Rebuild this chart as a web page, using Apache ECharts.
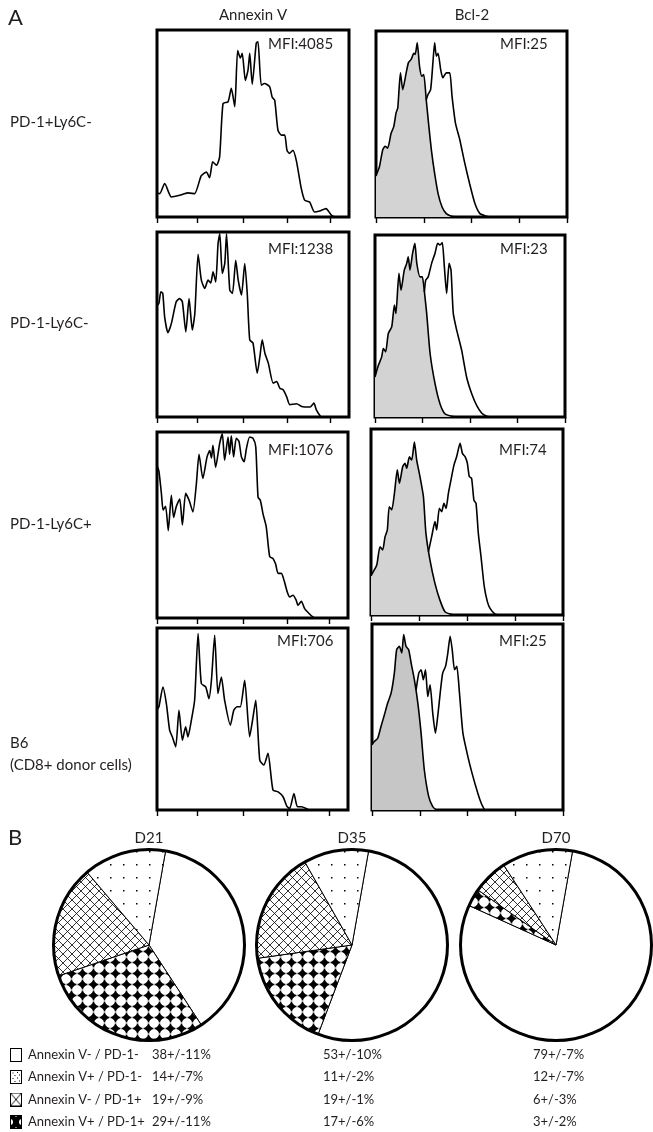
<!DOCTYPE html>
<html><head><meta charset="utf-8">
<script src="https://cdn.jsdelivr.net/npm/echarts@6/dist/echarts.min.js"></script>
<style>html,body{margin:0;padding:0;background:#fff}#c{width:653px;height:1132px}</style>
</head><body><div id="c"></div>
<script>
// ---------------- DATA ----------------
const columnTitles = ['Annexin V', 'Bcl-2'];
const rowLabels = ['PD-1+Ly6C-', 'PD-1-Ly6C-', 'PD-1-Ly6C+', 'B6', '(CD8+ donor cells)'];
const annexinMFI = [4085, 1238, 1076, 706];
const bcl2MFI = [25, 23, 74, 25];
const annexinTicks = [0, 21, 45, 68, 90];
const bcl2Ticks = [0, 25, 50, 75, 100];

const annexinRow1 = [[0,13],[1.4,12.5],[4,17.9],[7.5,10.7],[11.8,11.6],[16,12.9],[19.6,12.5],[23,22],[25.7,24],[27.4,21],[29,29.5],[31,27.7],[32.6,32],[34.4,60.7],[37,61.6],[38.7,68.8],[40.5,59],[42,89],[43.4,85],[44.4,87.5],[46,73],[47.4,78.6],[48.3,87.5],[49.6,71],[51.7,93],[52.6,93.7],[54.3,70.5],[56,71.4],[58.7,69.6],[60,64],[61.3,62.5],[63,46.4],[64.8,43.8],[66.5,43.8],[67.7,35.7],[69,34],[70.8,35.7],[72.6,30],[75,16],[76.9,9],[79.5,8],[82,2.7],[84.7,3.2],[88,4.5],[90.8,1],[92.5,0]];
const annexinRow2 = [[0,60],[1,61.4],[2,67.7],[3,66.8],[4,54],[5.7,45.6],[7.5,50.6],[10,62.3],[11.8,64],[13.2,62.3],[15,46],[16.7,64],[18.4,47],[19.7,56],[21.4,88],[23.1,74],[24.9,69.5],[26.6,74],[28,72.4],[29.2,78.5],[30.6,73],[31.8,93.7],[32.7,99],[34,77.6],[35.3,83],[36.2,99],[37.9,68.6],[39.3,66.8],[41,84.7],[42.3,74],[44,66],[45.7,83],[47,66.8],[48.3,41.7],[50,40],[52.2,23.7],[53.6,32.7],[54.8,41.7],[56.2,34.5],[58,29],[60.5,18.3],[62.3,19.2],[64,15.6],[65.7,14.7],[67.5,11],[69.2,6.6],[72.7,7.2],[75.3,5.7],[79.7,5.4],[81.7,7.5],[83,3.9],[84.9,0.7],[85.7,0]];
const annexinRow3 = [[0,82],[1,79],[2.3,67],[3.2,58],[4.5,60],[5.9,47],[7.5,66],[8.7,54],[10.1,60],[11.9,64],[13.3,50],[15,67],[16.9,63],[18.8,57],[20.6,72],[22,88],[24,75],[26.2,86.6],[27.6,90],[28.5,86],[29.3,92.8],[30.7,81],[32.8,93.8],[34.2,99],[35.4,84.8],[37.2,97.3],[38,88],[38.9,98],[40.1,86.6],[41.5,96.6],[42.9,95],[44.2,86.6],[45.6,84],[46.8,91],[48.5,97.3],[50.3,96.6],[51.7,92],[52.9,65],[54.1,63.3],[55.5,56],[57.2,49],[59,33],[60.7,32],[62.1,29],[63.4,24],[65.1,24],[66.5,20.3],[68.2,14],[69.5,11.3],[71.2,12.2],[72.9,9.5],[73.8,6.8],[75.6,9],[77.3,5],[79.6,2.4],[81.7,0.5],[82.5,0]];
const annexinRow4 = [[0,55],[1,56.7],[3.1,67.6],[4.9,58.5],[6.6,43.9],[8,40.2],[9.8,34.7],[11.5,54.8],[13.3,38.4],[15,45.7],[16.2,40.2],[18,49.4],[19.7,60.3],[21.5,96.9],[23.2,69.5],[25.5,67.6],[27.2,61.2],[28.5,71.3],[30.2,96],[31.9,64],[33.7,73.1],[35.4,60.3],[38.4,46.6],[40.2,54.8],[41.9,56.7],[43.6,56.7],[45.9,71.3],[48.5,40.2],[50.3,51.2],[51.7,60.3],[53.8,27.4],[55.9,24.7],[58.1,31.1],[60.7,11],[63.4,10],[66,7.3],[68.1,1.8],[69.5,0.9],[71.7,9.1],[73.5,1.8],[75.6,1.8],[79,0.4]];

// Bcl-2: isotype (grey filled) and stained (open)
const bcl2IsoRow1 = [[0,22],[0.5,23.4],[1.8,27],[3.5,36],[4.7,38],[6.1,37],[7.9,45],[9.3,48.6],[10.5,56],[11.4,58.6],[12.8,77.5],[14,68.5],[15.8,77.5],[17,83],[18.4,84.7],[19.8,88],[20.5,87.4],[21.6,93.7],[22.8,81],[24,75.7],[25,76.6],[26.3,63],[27.5,50.5],[29,36],[30.7,23.4],[32.5,12.6],[34.6,5.4],[36.8,1.8],[39.5,0.4],[43,0]];
const bcl2StainRow1 = [[26.3,63],[27.2,65.8],[28.6,68.5],[29.8,83],[30.7,93.7],[31.6,86.5],[32.5,88],[33.9,79],[35,74.8],[36.8,77.5],[38.6,77.5],[39.8,65],[41.6,50.5],[43.9,41.4],[46.5,28.8],[49,18],[51.8,7.2],[54.4,1.8],[57.9,0.4],[59.6,0]];
const bcl2IsoRow2 = [[0,22],[0.5,23.9],[1.8,28.4],[3.5,33],[4.4,37.6],[5.6,35.8],[7,45.9],[8.8,49.5],[10.2,61.5],[11,56.9],[12.6,78.9],[13.7,69.7],[15.4,80.7],[16.7,84.4],[17.5,88],[18.4,80.7],[19.8,90],[21,95.4],[22,84.4],[23.7,77],[24.9,77],[26,68.8],[27.2,56.9],[29,34.9],[31.6,18.3],[34.2,7.3],[36.8,1.8],[40.4,0.4],[43.9,0]];
const bcl2StainRow2 = [[26,68.8],[26.7,75.2],[28,77],[29.8,84.4],[31.6,90],[33,95.4],[34.2,94.5],[35.4,95.8],[36.5,82.6],[37.7,67.9],[39,84.4],[40,80.7],[41.2,56.9],[43,47.7],[45.6,36.7],[48.2,22],[50.9,12.8],[53.5,6.4],[56.1,2.2],[58.8,0.4],[60.5,0]];
const bcl2IsoRow3 = [[0,21],[1.2,23.3],[3,26.9],[4.7,36.7],[6.1,35],[7.3,42],[8.5,45.7],[9.5,58.2],[10.8,56.5],[12.2,65.4],[13.7,78],[14.8,70.8],[16.5,79.7],[17.7,81.5],[18.6,78.9],[20,85],[21.2,83.3],[22.6,93],[23.8,83.3],[25.5,74.4],[27.3,63.6],[28.6,44],[30.7,29.6],[33.3,17],[35.9,8],[38.5,1.8],[41.1,0.5],[43.8,0]];
const bcl2StainRow3 = [[29.9,34],[31.6,42.1],[33.3,50.2],[34.2,45.7],[35.6,57.3],[36.8,55.6],[38,60],[39.1,57.3],[40.3,65.4],[42,74.4],[43.2,80.6],[44.6,85.1],[46.4,92.3],[47.6,86.9],[49,85.1],[50.2,81.5],[51.2,74.4],[52.4,73.5],[53.6,61.8],[54.7,60],[55.9,43.9],[57.3,31.4],[59,15.2],[60.6,7.2],[62,3.6],[64.6,0.5],[66.3,0]];
const bcl2IsoRow4 = [[0,35],[1.2,36.8],[3,38.6],[4.7,44.9],[6.5,51.2],[8.2,57.5],[10,62.8],[11.7,73.6],[12.9,86.2],[14.3,88],[15.6,84.4],[16.6,94.3],[17.8,88],[19.2,86.2],[20.5,79],[22.2,70],[24,57.5],[25.7,41.3],[27.4,21.5],[29.7,7.2],[31.8,1.8],[33.6,0]];
const bcl2StainRow4 = [[23.1,64.6],[24.5,73.6],[25.7,75.4],[26.9,70],[28,75.4],[29.2,61],[30.4,67.3],[31.8,52.1],[33.2,41.3],[34.4,50.3],[35.7,62.8],[37,73.6],[38.5,77.2],[39.7,84.4],[40.9,93.4],[42,86.2],[43.2,75.4],[44.4,77.2],[45.8,62.8],[47.6,41.3],[50.2,28.7],[52.4,19.7],[55.4,9],[57.2,3.6],[58.9,0]];

// Panel B
const pieDays = ['D21', 'D35', 'D70'];
const subsetNames = ['Annexin V- / PD-1-', 'Annexin V+ / PD-1-', 'Annexin V- / PD-1+', 'Annexin V+ / PD-1+'];
const meanD21 = [38, 14, 19, 29];
const sdD21 = [11, 7, 9, 11];
const meanD35 = [53, 11, 19, 17];
const sdD35 = [10, 2, 1, 6];
const meanD70 = [79, 12, 6, 3];
const sdD70 = [7, 7, 3, 2];
const pieSliceOrder = [0, 3, 2, 1]; // clockwise from top

// ---------------- LAYOUT ----------------
const annexGrids = [[157,30,192,187],[157,232,192,185],[157,432,191,186],[157,628,191,182]];
const bclGrids = [[376,31,191,186],[375,235,190,182],[371,429,192,186],[372,624,191,186]];
const rowLabelY = [122, 323, 524, 743, 765];
const mfiPos = [[268,44,500,44],[268,249,500,249],[268,450,499,450],[277,641,499,641]];
const pieCenters = [[149,945],[352,945],[556,945]];
const pieR = 95.5;
const legendRowY = [1055, 1077, 1099.5, 1122];
const valueX = [152, 323, 533];
const FONT = 'Lato, "Open Sans", sans-serif';
const TXT = '#231f20';

// ---------------- PATTERNS ----------------
function makeCanvas(w, h, draw, bg) {
  const c = document.createElement('canvas'); c.width = w; c.height = h;
  const g = c.getContext('2d'); g.fillStyle = bg || '#fff'; g.fillRect(0, 0, w, h); draw(g); return c;
}
const dotTile = makeCanvas(13, 13, g => { g.fillStyle = '#000'; g.fillRect(6, 6, 1.5, 1.5); });
const crossTile = makeCanvas(9, 9, g => {
  g.strokeStyle = '#000'; g.lineWidth = 0.8; g.beginPath();
  g.moveTo(-1, -1); g.lineTo(10, 10); g.moveTo(10, -1); g.lineTo(-1, 10); g.stroke();
});
const diamondTile = makeCanvas(11, 11, g => {
  g.fillStyle = '#000'; g.beginPath();
  g.moveTo(5.5, 1.2); g.lineTo(9.8, 5.5); g.lineTo(5.5, 9.8); g.lineTo(1.2, 5.5); g.closePath(); g.fill();
  g.fillRect(4.7, 0.6, 1.6, 9.8); g.fillRect(0.6, 4.7, 9.8, 1.6);
});
const sliceFill = [
  '#ffffff',
  { image: dotTile, repeat: 'repeat' },
  { image: crossTile, repeat: 'repeat' },
  { image: diamondTile, repeat: 'repeat' }
];
// legend icons
const IW = 12, IH = 14;
function iconCanvas(kind) {
  return makeCanvas(IW, IH, g => {
    g.fillStyle = '#000'; g.strokeStyle = '#000';
    if (kind === 1) {
      [[2.5,2.5],[7,2],[9,4.5],[4.5,5],[2.5,8],[7,7.5],[9,10.5],[4.5,11]].forEach(p => g.fillRect(p[0], p[1], 1, 1));
    } else if (kind === 2) {
      g.lineWidth = 0.9; g.beginPath(); g.moveTo(0, 0); g.lineTo(IW, IH); g.moveTo(IW, 0); g.lineTo(0, IH); g.stroke();
    } else if (kind === 3) {
      g.fillRect(0, 0, IW, IH); g.fillStyle = '#fff';
      g.beginPath(); g.arc(0, IH / 2, 3, 0, Math.PI * 2); g.fill();
      g.beginPath(); g.arc(IW, IH / 2, 3, 0, Math.PI * 2); g.fill();
      g.beginPath(); g.moveTo(IW/2 - 2, 0); g.lineTo(IW/2 + 2, 0); g.lineTo(IW/2, 2); g.fill();
      g.beginPath(); g.moveTo(IW/2 - 2, IH); g.lineTo(IW/2 + 2, IH); g.lineTo(IW/2, IH - 2); g.fill();
    }
    g.lineWidth = 1; g.strokeStyle = '#000'; g.strokeRect(0.5, 0.5, IW - 1, IH - 1);
  });
}

// ---------------- OPTION ----------------
const annexinCurves = [annexinRow1, annexinRow2, annexinRow3, annexinRow4];
const bcl2Iso = [bcl2IsoRow1, bcl2IsoRow2, bcl2IsoRow3, bcl2IsoRow4];
const bcl2Stain = [bcl2StainRow1, bcl2StainRow2, bcl2StainRow3, bcl2StainRow4];

const grid = [], xAxis = [], yAxis = [], series = [];
function addPanel(box, ticks) {
  const i = grid.length;
  grid.push({ left: box[0], top: box[1], width: box[2], height: box[3], show: true, borderColor: '#000', borderWidth: 3, backgroundColor: 'transparent' });
  xAxis.push({ gridIndex: i, type: 'value', min: 0, max: 100, interval: 25,
    axisLine: { show: false }, splitLine: { show: false }, axisLabel: { show: false },
    axisTick: { show: true, customValues: ticks, length: 6, inside: false, lineStyle: { color: '#000', width: 1.4 } } });
  yAxis.push({ gridIndex: i, type: 'value', min: 0, max: 100, show: false });
  return i;
}
const lineBase = { type: 'line', showSymbol: false, symbol: 'none', smooth: 0.2, silent: true,
  lineStyle: { color: '#000', width: 1.6 } };
for (let r = 0; r < 4; r++) {
  const a = addPanel(annexGrids[r], annexinTicks);
  series.push(Object.assign({}, lineBase, { xAxisIndex: a, yAxisIndex: a, data: annexinCurves[r] }));
  const b = addPanel(bclGrids[r], bcl2Ticks);
  series.push(Object.assign({}, lineBase, { xAxisIndex: b, yAxisIndex: b, data: bcl2Iso[r],
    areaStyle: { color: r === 3 ? '#c6c6c6' : '#d3d3d3', opacity: 1 } }));
  series.push(Object.assign({}, lineBase, { xAxisIndex: b, yAxisIndex: b, data: bcl2Stain[r] }));
}

const means = [meanD21, meanD35, meanD70];
const sds = [sdD21, sdD35, sdD70];
pieDays.forEach((d, k) => {
  series.push({ type: 'pie', center: pieCenters[k], radius: pieR, startAngle: 80, clockwise: true, silent: true,
    label: { show: false }, labelLine: { show: false },
    itemStyle: { borderColor: '#000', borderWidth: 1 },
    data: pieSliceOrder.map(i => ({ name: subsetNames[i], value: means[k][i], itemStyle: { color: sliceFill[i] } })) });
  series.push({ type: 'pie', center: pieCenters[k], radius: [pieR - 1.5, pieR + 1.5], silent: true,
    label: { show: false }, labelLine: { show: false },
    itemStyle: { color: '#000', borderWidth: 0 }, data: [{ name: d + ' outline', value: 1 }] });
});

const graphic = [];
function txt(x, y, s, size, align, weight) {
  graphic.push({ type: 'text', x: x, y: y, silent: true,
    style: { text: s, font: (weight || 'normal') + ' ' + size + 'px ' + FONT, fill: TXT, align: align || 'left', verticalAlign: 'middle' } });
}
txt(8, 18, 'A', 22);
txt(253, 15, columnTitles[0], 15, 'center');
txt(472, 15, columnTitles[1], 15, 'center');
rowLabels.forEach((s, i) => txt(10, rowLabelY[i], s, 15));
for (let r = 0; r < 4; r++) {
  txt(mfiPos[r][0], mfiPos[r][1], 'MFI:' + annexinMFI[r], 15);
  txt(mfiPos[r][2], mfiPos[r][3], 'MFI:' + bcl2MFI[r], 15);
}
txt(8, 838, 'B', 22);
pieDays.forEach((d, k) => txt(pieCenters[k][0], 838, d, 15, 'center'));
subsetNames.forEach((s, i) => {
  graphic.push({ type: 'image', x: 10, y: legendRowY[i] - IH / 2, silent: true,
    style: { image: iconCanvas(i), width: IW, height: IH } });
  txt(28, legendRowY[i], s, 13);
  for (let k = 0; k < 3; k++) txt(valueX[k], legendRowY[i], means[k][i] + '+/-' + sds[k][i] + '%', 13);
});

const chart = echarts.init(document.getElementById('c'), null, { renderer: 'canvas', width: 653, height: 1132 });
chart.setOption({ animation: false, backgroundColor: '#fff', grid, xAxis, yAxis, series, graphic });
</script>
</body></html>
